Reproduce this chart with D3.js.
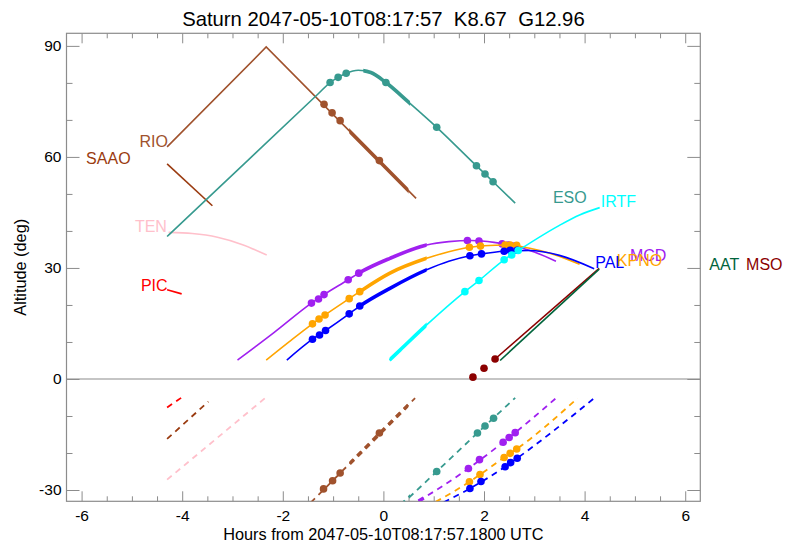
<!DOCTYPE html>
<html>
<head>
<meta charset="utf-8">
<script src="https://cdn.jsdelivr.net/npm/d3@7"></script>
<style>
  body { margin: 0; background: #fff; }
</style>
</head>
<body>
<svg id="chart" width="798" height="546"></svg>
<script>
const FONT = '"Liberation Sans", Arial, Helvetica, sans-serif';

// ── axis ticks ──────────────────────────────────────────────
const xTicks = [-6, -4, -2, 0, 2, 4, 6];
const yTicks = [-30, 0, 30, 60, 90];

// ── sites (draw order) ──────────────────────────────────────
const siteNames = ["RIO", "SAAO", "TEN", "PIC", "ESO", "MCD", "KPNO", "PAL", "IRTF", "MSO", "AAT"];
const siteColors = ["#A0522D", "#9A3B10", "#FFC0CB", "#FF0000", "#379A8F", "#A020F0",
  "#FFA500", "#0000FF", "#00FFFF", "#8B0000", "#00643C"];

// target altitude [hours, deg]
const rioAlt = [[-4.3, 62.7], [-2.33, 89.7], [0.65, 48.8]];
const saaoAlt = [[-4.3, 58.1], [-3.4, 46.8]];
const tenAlt = [[-4.27, 39.6], [-3.8, 39.3], [-3.3, 38.3], [-2.8, 36.3], [-2.32, 33.5]];
const picAlt = [[-4.3, 24.1], [-4.01, 23.0]];
const esoAlt = [[-4.3, 38.5], [-2.7, 59.0], [-1.3, 77.0], [-1.06, 80.1], [-0.9, 81.5], [-0.74, 82.6],
  [-0.5, 83.4], [-0.25, 82.8], [0.05, 80.1], [0.5, 74.8], [1.06, 68.0], [1.85, 57.6], [2.02, 55.4],
  [2.18, 53.3], [2.62, 47.5]];
const mcdAlt = [[-2.9, 5.1], [-2.17, 12.6], [-1.43, 20.5], [-1.18, 22.8], [-0.7, 26.8], [-0.49, 28.6],
  [0.13, 32.6], [0.86, 36.2], [1.3, 37.1], [1.75, 37.4], [2.2, 36.9], [2.6, 35.9], [3.0, 34.3], [3.43, 31.8]];
const kpnoAlt = [[-2.33, 5.1], [-1.87, 10.1], [-1.41, 14.9], [-1.16, 17.3], [-0.68, 21.7], [-0.47, 23.6],
  [0.13, 28.6], [0.86, 32.6], [1.3, 34.4], [1.71, 35.6], [2.0, 36.0], [2.45, 36.2], [2.91, 35.3],
  [3.4, 33.6], [3.9, 31.0]];
const palAlt = [[-1.92, 5.1], [-1.41, 10.75], [-1.15, 13.1], [-0.68, 17.6], [-0.47, 19.7], [0.13, 24.5],
  [0.86, 29.5], [1.3, 31.8], [1.72, 33.3], [1.95, 33.8], [2.4, 34.5], [2.9, 34.7], [3.5, 33.4], [4.19, 29.8]];
const irtfAlt = [[0.12, 5.1], [0.33, 7.8], [0.86, 14.6], [1.62, 23.6], [1.9, 26.6], [2.4, 32.2],
  [2.68, 34.7], [3.5, 41.5], [3.9, 44.3], [4.3, 46.3]];
const msoAlt = [[2.22, 5.4], [4.29, 29.9]];
const aatAlt = [[2.32, 5.0], [4.29, 29.7]];

// sun altitude (dashed) [hours, deg]
const rioSun = [[-1.6, -35.5], [0.63, -5.2]];
const saaoSun = [[-4.3, -16.2], [-3.48, -6.1]];
const tenSun = [[-4.3, -27.2], [-2.32, -4.8]];
const picSun = [[-4.3, -7.7], [-4.01, -5.0]];
const esoSun = [[0.35, -34.1], [1.06, -25.0], [1.87, -14.6], [2.62, -5.1]];
const mcdSun = [[0.7, -33.0], [1.69, -24.2], [2.38, -17.1], [2.62, -14.5], [3.43, -5.2]];
const kpnoSun = [[1.04, -33.2], [1.71, -27.8], [2.4, -21.2], [2.65, -18.9], [3.86, -5.2]];
const palSun = [[1.2, -33.3], [1.72, -29.6], [2.42, -23.7], [2.66, -21.4], [4.19, -5.2]];

// marked times on the altitude tracks
const rioDots = [[-1.18, 74.2], [-1.02, 71.9], [-0.86, 69.8], [-0.08, 59.0]];
const esoDots = [[-1.06, 80.1], [-0.9, 81.5], [-0.74, 82.6], [0.05, 80.1], [1.06, 68.0], [1.85, 57.6],
  [2.02, 55.4], [2.18, 53.3]];
const mcdDots = [[-1.43, 20.5], [-1.29, 21.6], [-1.18, 22.8], [-0.7, 26.8], [-0.49, 28.6], [1.67, 37.4],
  [1.9, 37.3], [2.36, 36.5], [2.48, 36.2], [2.6, 35.9]];
const kpnoDots = [[-1.41, 14.9], [-1.28, 16.2], [-1.16, 17.3], [-0.68, 21.7], [-0.47, 23.6], [1.71, 35.6],
  [1.93, 35.9], [2.42, 36.2], [2.52, 36.2], [2.65, 36.1]];
const palDots = [[-1.41, 10.75], [-1.27, 11.9], [-1.15, 13.1], [-0.68, 17.6], [-0.47, 19.7], [1.72, 33.3],
  [1.95, 33.8], [2.4, 34.5], [2.52, 34.8], [2.66, 34.8]];
const irtfDots = [[1.62, 23.6], [1.9, 26.6], [2.4, 32.2], [2.55, 33.5], [2.68, 34.7]];
const msoDots = [[1.78, 0.5], [2.0, 2.9], [2.22, 5.4]];

// marked times on the sun tracks
const rioSunDots = [[-1.19, -29.7], [-1.01, -27.5], [-0.86, -25.4], [-0.08, -14.6]];
const esoSunDots = [[1.06, -25.0], [1.87, -14.6], [2.02, -12.7], [2.19, -10.6]];
const mcdSunDots = [[1.69, -24.2], [1.91, -21.8], [2.38, -17.1], [2.5, -15.8], [2.62, -14.5]];
const kpnoSunDots = [[1.71, -27.8], [1.92, -25.8], [2.4, -21.2], [2.52, -20.1], [2.65, -18.9]];
const palSunDots = [[1.72, -29.6], [1.94, -27.7], [2.42, -23.7], [2.53, -22.6], [2.66, -21.4]];

// windows drawn heavier [from, to] hours
const rioThick = [-0.68, 0.5];
const esoThick = [-0.4, 0.53];
const mcdThick = [-0.46, 0.86];
const kpnoThick = [-0.46, 0.86];
const palThick = [-0.46, 0.86];
const irtfThick = [0.12, 0.86];

// label anchors [hours, deg]
const labelPos = [[-4.85, 62.8], [-5.91, 58.0], [-4.94, 39.6], [-4.82, 23.9], [3.37, 47.5], [4.9, 32.0],
  [4.64, 30.55], [4.21, 30.1], [4.32, 46.6], [7.21, 29.5], [6.48, 29.5]];

const altTracks = [rioAlt, saaoAlt, tenAlt, picAlt, esoAlt, mcdAlt, kpnoAlt, palAlt, irtfAlt, msoAlt, aatAlt];
const sunTracks = [rioSun, saaoSun, tenSun, picSun, esoSun, mcdSun, kpnoSun, palSun, null, null, null];
const altDots = [rioDots, [], [], [], esoDots, mcdDots, kpnoDots, palDots, irtfDots, msoDots, []];
const sunDots = [rioSunDots, [], [], [], esoSunDots, mcdSunDots, kpnoSunDots, palSunDots, [], [], []];
const thickWin = [rioThick, null, null, null, esoThick, mcdThick, kpnoThick, palThick, irtfThick, null, null];

const sites = siteNames.map((name, i) => ({
  name, color: siteColors[i], alt: altTracks[i], sun: sunTracks[i],
  dots: altDots[i], sunDots: sunDots[i], thick: thickWin[i], label: labelPos[i],
}));

// ── layout ──────────────────────────────────────────────────
const L = 66.5, R = 700.3, T = 33.3, B = 501.3;
const GREY = "#8c8c8c";

const svg = d3.select("#chart");
const x = d3.scaleLinear().domain([-6.3, 6.3]).range([L, R]);
const y = d3.scaleLinear().domain([-33.05, 93.4]).range([B, T]);

const defs = svg.append("defs");
defs.append("clipPath").attr("id", "plot-clip")
  .append("rect").attr("x", L).attr("y", T).attr("width", R - L).attr("height", B - T);

// ── axes ────────────────────────────────────────────────────
// plain hyphen for negatives, like the original plot
const tickText = d => String(d);

function styleAxis(g, size) {
  g.select(".domain").remove();
  g.attr("font-family", FONT).attr("font-size", size);
  g.selectAll(".tick line").attr("stroke", GREY).attr("stroke-width", 1);
  g.selectAll(".tick text").attr("fill", "#000");
}

const xMinor = d3.range(-6, 6.01, 0.5).filter(v => !xTicks.includes(v));
const yMinor = d3.range(-30, 91, 10).filter(v => !yTicks.includes(v));

svg.append("g").attr("transform", `translate(0,${B})`)
  .call(d3.axisBottom(x).tickValues(xTicks).tickSize(-10).tickPadding(9).tickFormat(tickText))
  .call(g => styleAxis(g, 15.5));
svg.append("g").attr("transform", `translate(0,${B})`)
  .call(d3.axisBottom(x).tickValues(xMinor).tickSize(-5).tickFormat(""))
  .call(g => styleAxis(g, 15.5));
svg.append("g").attr("transform", `translate(0,${T})`)
  .call(d3.axisTop(x).tickValues(xTicks).tickSize(-10).tickFormat(""))
  .call(g => styleAxis(g, 15.5));
svg.append("g").attr("transform", `translate(0,${T})`)
  .call(d3.axisTop(x).tickValues(xMinor).tickSize(-5).tickFormat(""))
  .call(g => styleAxis(g, 15.5));

svg.append("g").attr("transform", `translate(${L},0)`)
  .call(d3.axisLeft(y).tickValues(yTicks).tickSize(-13).tickPadding(5).tickFormat(tickText))
  .call(g => styleAxis(g, 15.5));
svg.append("g").attr("transform", `translate(${L},0)`)
  .call(d3.axisLeft(y).tickValues(yMinor).tickSize(-6).tickFormat(""))
  .call(g => styleAxis(g, 15.5));
svg.append("g").attr("transform", `translate(${R},0)`)
  .call(d3.axisRight(y).tickValues(yTicks).tickSize(-13).tickFormat(""))
  .call(g => styleAxis(g, 15.5));
svg.append("g").attr("transform", `translate(${R},0)`)
  .call(d3.axisRight(y).tickValues(yMinor).tickSize(-6).tickFormat(""))
  .call(g => styleAxis(g, 15.5));

svg.append("rect")
  .attr("x", L).attr("y", T).attr("width", R - L).attr("height", B - T)
  .attr("fill", "none").attr("stroke", GREY).attr("stroke-width", 1.2);

// horizon
svg.append("line")
  .attr("x1", L).attr("x2", R).attr("y1", y(0)).attr("y2", y(0))
  .attr("stroke", GREY).attr("stroke-width", 1.2);

// ── tracks ──────────────────────────────────────────────────
const plot = svg.append("g").attr("clip-path", "url(#plot-clip)");

function lineFor(name) {
  return d3.line()
    .x(d => x(d[0])).y(d => y(d[1]))
    .curve(name === "RIO" ? d3.curveLinear : d3.curveMonotoneX);
}

sites.forEach((s, i) => {
  const line = lineFor(s.name);
  const g = plot.append("g");

  if (s.thick) {
    defs.append("clipPath").attr("id", `thick-${i}`)
      .append("rect")
      .attr("x", x(s.thick[0])).attr("width", x(s.thick[1]) - x(s.thick[0]))
      .attr("y", T).attr("height", B - T);
  }

  // sun altitude, dashed
  if (s.sun) {
    g.append("path").attr("d", line(s.sun))
      .attr("fill", "none").attr("stroke", s.color)
      .attr("stroke-width", 1.8).attr("stroke-dasharray", "6,5");
    if (s.thick) {
      g.append("path").attr("d", line(s.sun))
        .attr("clip-path", `url(#thick-${i})`)
        .attr("fill", "none").attr("stroke", s.color)
        .attr("stroke-width", 3.6).attr("stroke-dasharray", "6,5");
    }
    g.selectAll("circle.sun").data(s.sunDots).join("circle")
      .attr("class", "sun")
      .attr("cx", d => x(d[0])).attr("cy", d => y(d[1])).attr("r", 3.8)
      .attr("fill", s.color);
  }

  // target altitude, solid
  g.append("path").attr("d", line(s.alt))
    .attr("fill", "none").attr("stroke", s.color).attr("stroke-width", 1.6);
  if (s.thick) {
    g.append("path").attr("d", line(s.alt))
      .attr("clip-path", `url(#thick-${i})`)
      .attr("fill", "none").attr("stroke", s.color).attr("stroke-width", 3.6);
  }
  g.selectAll("circle.alt").data(s.dots).join("circle")
    .attr("class", "alt")
    .attr("cx", d => x(d[0])).attr("cy", d => y(d[1])).attr("r", 3.8)
    .attr("fill", s.color);
});

// ── labels ──────────────────────────────────────────────────
svg.append("g").selectAll("text").data(sites).join("text")
  .attr("x", d => x(d.label[0])).attr("y", d => y(d.label[1]))
  .attr("fill", d => d.color)
  .attr("font-family", FONT).attr("font-size", 16)
  .text(d => d.name);

svg.append("text")
  .attr("x", (L + R) / 2).attr("y", 26)
  .attr("text-anchor", "middle")
  .attr("font-family", FONT).attr("font-size", 20.3)
  .attr("xml:space", "preserve")
  .style("white-space", "pre")
  .text("Saturn 2047-05-10T08:17:57  K8.67  G12.96");

svg.append("text")
  .attr("x", (L + R) / 2).attr("y", 540)
  .attr("text-anchor", "middle")
  .attr("font-family", FONT).attr("font-size", 16.3)
  .text("Hours from 2047-05-10T08:17:57.1800 UTC");

svg.append("text")
  .attr("transform", `translate(26,${(T + B) / 2}) rotate(-90)`)
  .attr("text-anchor", "middle")
  .attr("font-family", FONT).attr("font-size", 16.3)
  .text("Altitude (deg)");
</script>
</body>
</html>
